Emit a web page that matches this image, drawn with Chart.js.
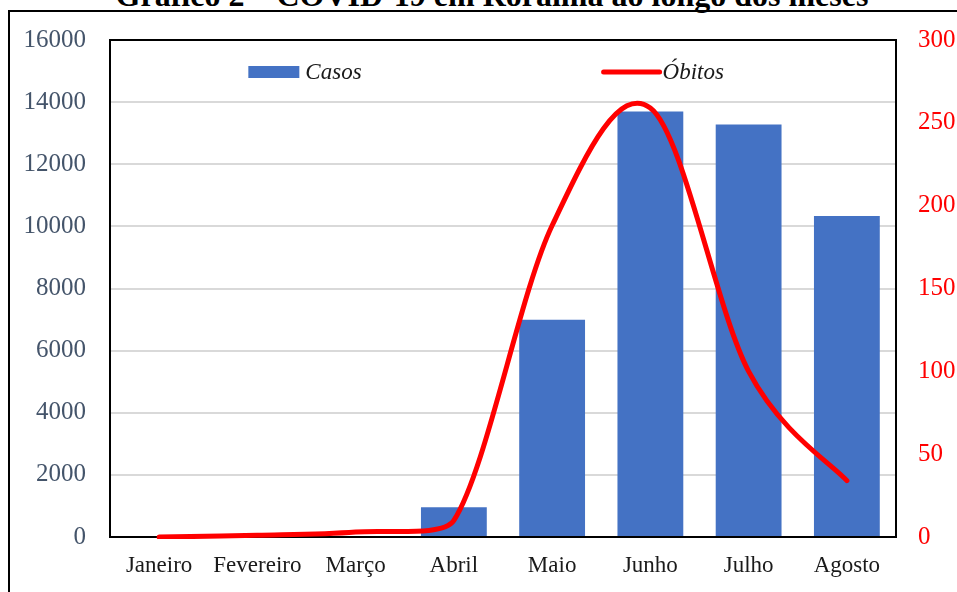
<!DOCTYPE html>
<html>
<head>
<meta charset="utf-8">
<script src="https://cdn.jsdelivr.net/npm/chart.js@4.4.0/dist/chart.umd.min.js"></script>
<style>
  body { margin: 0; background: #fff; overflow: hidden; }
  #wrap { position: relative; width: 957px; height: 592px; }
  #frame { position: absolute; left: 8px; top: 10px; width: 1000px; height: 700px;
           border-left: 2px solid #000; border-top: 2px solid #000; }
  #title { position: absolute; left: 0; width: 984px; top: -23px; text-align: center;
           font: bold 32px "Liberation Serif", "Times New Roman", serif; color: #000; }
  #chartBox { position: absolute; left: 0; top: 0; width: 957px; height: 592px; }
</style>
</head>
<body>
<div id="wrap">
  <div id="frame"></div>
  <div id="title">Gráfico 2 – COVID-19 em Roraima ao longo dos meses</div>
  <div id="chartBox"><canvas id="myChart"></canvas></div>
</div>
<script>
const months = ['Janeiro', 'Fevereiro', 'Março', 'Abril', 'Maio', 'Junho', 'Julho', 'Agosto'];
const casos = [0, 0, 0, 960, 6990, 13700, 13280, 10330];
const obitos = [0, 1, 3, 10, 188, 259, 100, 34];
const casosTicks = [0, 2000, 4000, 6000, 8000, 10000, 12000, 14000, 16000];
const obitosTicks = [0, 50, 100, 150, 200, 250, 300];

const serif = '"Liberation Serif", "Times New Roman", serif';

// Excel-style smoothing: uniform Catmull-Rom control points on the pixel
// positions Chart.js already computed; a handle that would leave the plot
// is shortened along its own direction so the curve stays smooth
const excelSmooth = {
    id: 'excelSmooth',
    beforeDatasetDraw(chart, args) {
        const meta = args.meta;
        if (meta.type !== 'line') return;
        const line = meta.dataset;
        const area = chart.chartArea;
        line.updateControlPoints(area);
        const pts = meta.data;
        const fit = (y, dy) => {
            if (y + dy > area.bottom) return (area.bottom - y) / dy;
            if (y + dy < area.top) return (area.top - y) / dy;
            return 1;
        };
        for (let i = 0; i < pts.length; i++) {
            const p = pts[i];
            const prev = pts[Math.max(i - 1, 0)];
            const next = pts[Math.min(i + 1, pts.length - 1)];
            const dx = (next.x - prev.x) / 6;
            const dy = (next.y - prev.y) / 6;
            const kb = dy ? fit(p.y, -dy) : 1;
            const ka = dy ? fit(p.y, dy) : 1;
            p.cp1x = p.x - dx * kb;
            p.cp1y = p.y - dy * kb;
            p.cp2x = p.x + dx * ka;
            p.cp2y = p.y + dy * ka;
        }
        line._path = undefined;
    }
};

// legend drawn inside the plot, like the original spreadsheet chart
const insideLegend = {
    id: 'insideLegend',
    afterDraw(chart) {
        const ctx = chart.ctx;
        const area = chart.chartArea;
        const w = area.right - area.left;
        const y = area.top + 32;
        const bars = chart.data.datasets.find(d => d.type === 'bar');
        const line = chart.data.datasets.find(d => d.type === 'line');
        ctx.save();
        ctx.font = 'italic 23px ' + serif;
        ctx.textBaseline = 'middle';

        const x1 = area.left + w * 0.176;
        ctx.fillStyle = bars.backgroundColor;
        ctx.fillRect(x1, y - 6, 51, 12);
        ctx.fillStyle = '#1a1a1a';
        ctx.fillText(bars.label, x1 + 57, y + 1);

        const x2 = area.left + w * 0.628;
        ctx.strokeStyle = line.borderColor;
        ctx.lineWidth = 5;
        ctx.lineCap = 'round';
        ctx.beginPath();
        ctx.moveTo(x2, y);
        ctx.lineTo(x2 + 56, y);
        ctx.stroke();
        ctx.fillText(line.label, x2 + 59, y + 1);
        ctx.restore();
    }
};

// black border around the plot area, drawn after the bars but under the line
const plotBorder = {
    id: 'plotBorder',
    afterDatasetDraw(chart, args) {
        if (args.meta.type !== 'bar') return;
        const a = chart.chartArea;
        const ctx = chart.ctx;
        ctx.save();
        ctx.strokeStyle = '#000';
        ctx.lineWidth = 2;
        ctx.strokeRect(a.left, a.top, a.right - a.left, a.bottom - a.top);
        ctx.restore();
    }
};

const ctx = document.getElementById('myChart').getContext('2d');
const chart = new Chart(ctx, {
    data: {
        labels: months,
        datasets: [
            {
                type: 'line',
                label: 'Óbitos',
                data: obitos,
                yAxisID: 'y1',
                borderColor: '#FF0000',
                backgroundColor: '#FF0000',
                borderWidth: 5,
                borderCapStyle: 'round',
                borderJoinStyle: 'round',
                pointRadius: 0,
                tension: 0.4,
                clip: { left: 5, top: 5, right: 5, bottom: 2 },
                order: 0
            },
            {
                type: 'bar',
                label: 'Casos',
                data: casos,
                yAxisID: 'y',
                backgroundColor: '#4472C4',
                categoryPercentage: 1,
                barPercentage: 0.67,
                order: 1
            }
        ]
    },
    options: {
        responsive: true,
        maintainAspectRatio: false,
        animation: false,
        layout: { padding: { left: 0, right: 0, top: 40, bottom: 0 } },
        plugins: {
            legend: { display: false },
            tooltip: { enabled: false }
        },
        scales: {
            x: {
                grid: { display: false, drawTicks: false },
                border: { display: false },
                ticks: {
                    color: '#1a1a1a',
                    font: { family: serif, size: 23 },
                    padding: 15,
                    maxRotation: 0,
                    autoSkip: false
                },
                afterFit(scale) { scale.height = 55; }
            },
            y: {
                position: 'left',
                min: 0,
                max: 16000,
                afterBuildTicks(scale) { scale.ticks = casosTicks.map(v => ({ value: v })); },
                grid: { color: '#D9D9D9', lineWidth: 2, drawTicks: false },
                border: { display: false },
                ticks: {
                    color: '#44546A',
                    font: { family: serif, size: 25 },
                    padding: 24,
                    callback: v => String(v)
                },
                afterFit(scale) { scale.width = 110; }
            },
            y1: {
                position: 'right',
                min: 0,
                max: 300,
                afterBuildTicks(scale) { scale.ticks = obitosTicks.map(v => ({ value: v })); },
                grid: { display: false, drawTicks: false },
                border: { display: false },
                ticks: {
                    color: '#FF0000',
                    font: { family: serif, size: 25 },
                    padding: 22,
                    callback: v => String(v)
                },
                afterFit(scale) { scale.width = 61; }
            }
        }
    },
    plugins: [excelSmooth, plotBorder, insideLegend]
});
</script>
</body>
</html>
